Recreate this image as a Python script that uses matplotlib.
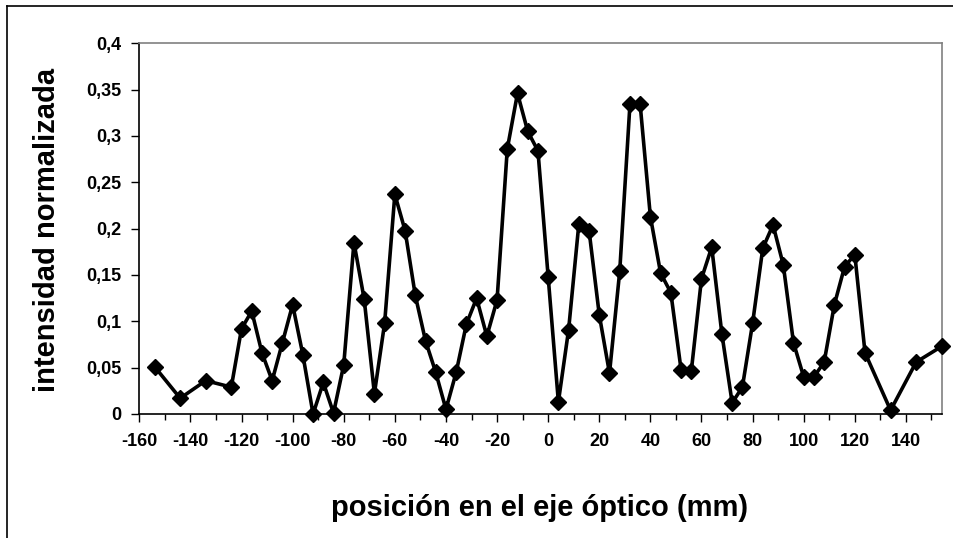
import matplotlib
matplotlib.use("Agg")
import matplotlib.pyplot as plt
from matplotlib.lines import Line2D
from matplotlib.ticker import MultipleLocator, FuncFormatter

plt.rcParams['font.family'] = ['Liberation Sans', 'DejaVu Sans']

posicion = [-154, -144, -134, -124, -120, -116, -112, -108, -104, -100, -96, -92, -88, -84,
            -80, -76, -72, -68, -64, -60, -56, -52, -48, -44, -40, -36, -32, -28, -24, -20,
            -16, -12, -8, -4, 0, 4, 8, 12, 16, 20, 24, 28, 32, 36, 40, 44, 48, 52, 56, 60,
            64, 68, 72, 76, 80, 84, 88, 92, 96, 100, 104, 108, 112, 116, 120, 124, 134, 144, 154]
intensidad = [0.051, 0.017, 0.036, 0.029, 0.092, 0.111, 0.066, 0.036, 0.077, 0.118, 0.064, 0.000,
              0.034, 0.001, 0.053, 0.185, 0.124, 0.022, 0.098, 0.237, 0.198, 0.128, 0.079, 0.045,
              0.005, 0.045, 0.097, 0.125, 0.084, 0.123, 0.286, 0.346, 0.305, 0.284, 0.148, 0.013,
              0.091, 0.205, 0.198, 0.107, 0.044, 0.154, 0.334, 0.334, 0.213, 0.152, 0.131, 0.048,
              0.046, 0.146, 0.180, 0.086, 0.012, 0.029, 0.098, 0.179, 0.204, 0.161, 0.077, 0.040,
              0.040, 0.056, 0.118, 0.159, 0.172, 0.066, 0.004, 0.056, 0.073]

xlabel = "posición en el eje óptico (mm)"
ylabel = "intensidad normalizada"

W, H = 954, 538
fig = plt.figure(figsize=(W / 100, H / 100), dpi=100)
ax = fig.add_axes([139.3 / W, 1 - 414 / H, (941.7 - 139.3) / W, (414 - 43.3) / H])

ax.plot(posicion, intensidad, color='black', lw=2.6, marker='D', ms=8,
        markerfacecolor='black', markeredgecolor='black', clip_on=False, zorder=3)

ax.set_xlim(-160, 154)
ax.set_ylim(0, 0.4)
ax.xaxis.set_major_locator(MultipleLocator(20))
ax.xaxis.set_minor_locator(MultipleLocator(10))
ax.yaxis.set_major_locator(MultipleLocator(0.05))

ax.yaxis.set_major_formatter(FuncFormatter(lambda v, p: ('%g' % round(v, 3)).replace('.', ',')))
ax.xaxis.set_major_formatter(FuncFormatter(lambda v, p: '%d' % round(v)))

ax.tick_params(axis='both', which='major', labelsize=13, direction='out', length=6,
               width=1, color='black')
ax.tick_params(axis='x', which='minor', direction='out', length=4, width=1, color='black')
ax.tick_params(axis='x', which='major', pad=8)
ax.tick_params(axis='y', which='major', pad=7)
for lab in ax.get_xticklabels() + ax.get_yticklabels():
    lab.set_fontweight('bold')

ax.spines['left'].set_color('black')
ax.spines['bottom'].set_color('black')
ax.spines['left'].set_linewidth(1.2)
ax.spines['bottom'].set_linewidth(1.2)
ax.spines['top'].set_color('#808080')
ax.spines['right'].set_color('#808080')
ax.spines['top'].set_linewidth(1.2)
ax.spines['right'].set_linewidth(1.2)

fig.text(540 / W, 1 - 508 / H, xlabel, ha='center', va='center', fontsize=21, fontweight='bold')
fig.text(47 / W, 1 - 230 / H, ylabel, ha='center', va='center', fontsize=21, fontweight='bold',
         rotation=90)

# outer chart border (cropped on right and bottom)
fig.add_artist(Line2D([7 / W, 1.0], [1 - 6 / H, 1 - 6 / H], transform=fig.transFigure,
                      color='black', lw=1.2))
fig.add_artist(Line2D([7 / W, 7 / W], [0.0, 1 - 6 / H], transform=fig.transFigure,
                      color='black', lw=1.2))

fig.savefig('out.png', dpi=100)
